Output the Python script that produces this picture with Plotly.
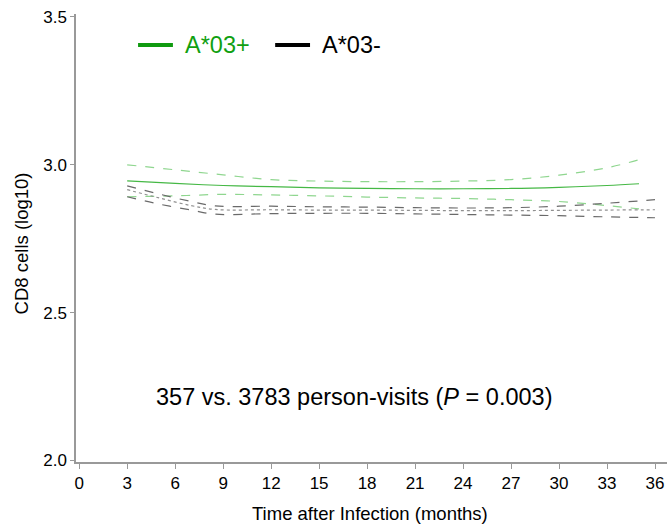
import plotly.graph_objects as go

months_pos = [3, 6, 9, 12, 15, 18, 21, 24, 27, 30, 33, 35]
pos_mean = [2.946, 2.937, 2.930, 2.926, 2.922, 2.920, 2.919, 2.919, 2.920, 2.924, 2.930, 2.936]
pos_upper = [3.000, 2.983, 2.966, 2.950, 2.945, 2.943, 2.943, 2.945, 2.950, 2.965, 2.990, 3.017]
pos_lower = [2.892, 2.895, 2.900, 2.898, 2.895, 2.891, 2.888, 2.886, 2.882, 2.876, 2.862, 2.851]

months_neg = [3, 5, 7, 8.5, 12, 15, 18, 21, 24, 27, 30, 33, 36]
neg_mean = [2.916, 2.888, 2.862, 2.849, 2.848, 2.847, 2.847, 2.846, 2.845, 2.845, 2.846, 2.847, 2.848]
neg_upper = [2.929, 2.901, 2.876, 2.861, 2.860, 2.858, 2.857, 2.855, 2.854, 2.855, 2.860, 2.870, 2.882]
neg_lower = [2.892, 2.867, 2.847, 2.833, 2.835, 2.836, 2.836, 2.834, 2.832, 2.830, 2.828, 2.824, 2.821]

x_ticks = list(range(0, 37, 3))
y_ticks = [2.0, 2.5, 3.0, 3.5]

FONT = "Arial, Liberation Sans, sans-serif"
GREEN_TXT = "#10a010"
GREEN_LINE = "#45b845"
GREEN_CI = "#8fd68f"
GRAY_DARK = "#6a6a6a"
GRAY_MID = "#909090"

fig = go.Figure()
fig.add_trace(go.Scatter(x=months_pos, y=pos_upper, mode="lines", line=dict(color=GREEN_CI, width=1.2, dash="dash", shape="spline"), showlegend=False))
fig.add_trace(go.Scatter(x=months_pos, y=pos_lower, mode="lines", line=dict(color=GREEN_CI, width=1.2, dash="dash", shape="spline"), showlegend=False))
fig.add_trace(go.Scatter(x=months_pos, y=pos_mean, mode="lines", line=dict(color=GREEN_LINE, width=1.2, shape="spline"), showlegend=False))
fig.add_trace(go.Scatter(x=months_neg, y=neg_upper, mode="lines", line=dict(color=GRAY_DARK, width=1.2, dash="dash", shape="spline"), showlegend=False))
fig.add_trace(go.Scatter(x=months_neg, y=neg_lower, mode="lines", line=dict(color=GRAY_DARK, width=1.2, dash="dash", shape="spline"), showlegend=False))
fig.add_trace(go.Scatter(x=months_neg, y=neg_mean, mode="lines", line=dict(color=GRAY_MID, width=1.2, dash="dot", shape="spline"), showlegend=False))

# legend drawn manually
fig.add_shape(type="line", xref="paper", yref="paper", x0=0.105, x1=0.164, y0=0.931, y1=0.931,
              line=dict(color="#109a10", width=4))
fig.add_annotation(xref="paper", yref="paper", x=0.181, y=0.931, text="A*03+", showarrow=False,
                   xanchor="left", yanchor="middle", font=dict(family=FONT, size=23.5, color=GREEN_TXT))
fig.add_shape(type="line", xref="paper", yref="paper", x0=0.337, x1=0.396, y0=0.931, y1=0.931,
              line=dict(color="#000000", width=4))
fig.add_annotation(xref="paper", yref="paper", x=0.413, y=0.931, text="A*03-", showarrow=False,
                   xanchor="left", yanchor="middle", font=dict(family=FONT, size=23.5, color="#000000"))

fig.add_annotation(xref="paper", yref="paper", x=0.470, y=0.145,
                   text="357 vs. 3783 person-visits (<i>P</i> = 0.003)", showarrow=False,
                   xanchor="center", yanchor="middle", font=dict(family=FONT, size=23.5, color="#000000"))

# axis titles
fig.add_annotation(xref="paper", yref="paper", x=0.497, y=-0.116, text="Time after Infection (months)",
                   showarrow=False, xanchor="center", yanchor="middle",
                   font=dict(family=FONT, size=18.5, color="#000000"))
fig.add_annotation(xref="paper", yref="paper", x=-0.093, y=0.488, text="CD8 cells (log10)",
                   showarrow=False, xanchor="center", yanchor="middle", textangle=-90,
                   font=dict(family=FONT, size=18.5, color="#000000"))

fig.update_layout(
    width=669, height=525,
    margin=dict(l=76, r=2, t=14, b=63),
    paper_bgcolor="white", plot_bgcolor="white",
    font=dict(family=FONT, size=15, color="#000000"),
    xaxis=dict(range=[-0.2, 36.75], tickvals=x_ticks, ticktext=[str(v) for v in x_ticks],
               showgrid=False, zeroline=False, showline=True, linecolor="#999999", linewidth=1.5,
               ticks="outside", ticklen=5, tickcolor="#999999", automargin=False,
               tickfont=dict(size=17)),
    yaxis=dict(range=[1.995, 3.51], tickvals=y_ticks, ticktext=["2.0", "2.5", "3.0", "3.5"],
               showgrid=False, zeroline=False, showline=True, linecolor="#999999", linewidth=1.5,
               ticks="outside", ticklen=4, tickcolor="#999999", automargin=False,
               tickfont=dict(size=17)),
)

fig.write_html("out.html", config={"displayModeBar": False},
               post_script="document.body.style.margin='0';document.body.style.overflow='hidden';")
